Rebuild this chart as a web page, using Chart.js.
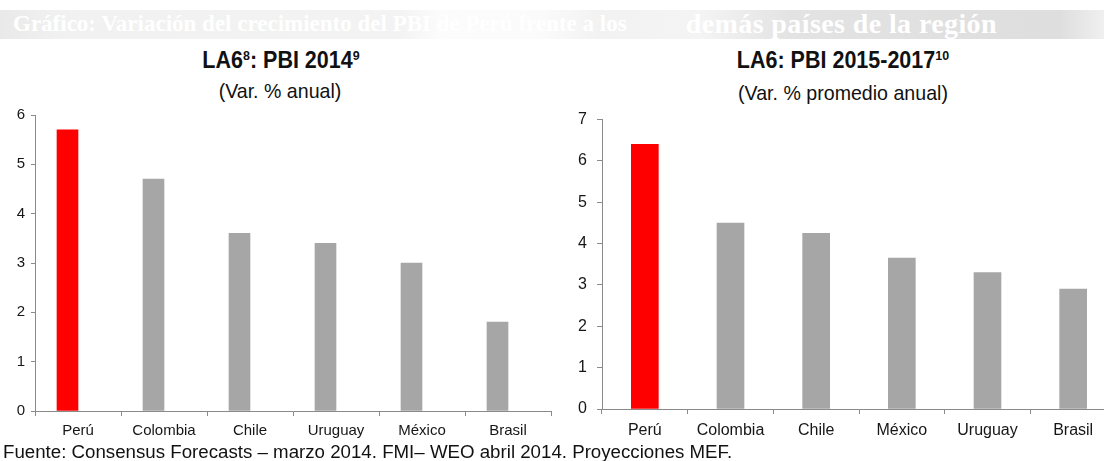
<!DOCTYPE html>
<html lang="es">
<head>
<meta charset="utf-8">
<title>PBI: Perú frente a la región</title>
<script src="https://cdn.jsdelivr.net/npm/chart.js@4/dist/chart.umd.min.js"></script>
<style>
  html, body { margin: 0; padding: 0; width: 1104px; height: 461px; overflow: hidden; background: #fff; }
  body { position: relative; font-family: 'Liberation Sans', Arial, sans-serif; color: #111; }
  .band {
    position: absolute; left: 0; top: 10px; width: 1104px; height: 29px;
    background: linear-gradient(to right, #e9e9e9 0px, #f1f1f1 60px, #f3f3f3 400px, #fcfcfc 440px,
      #fbfbfb 540px, #f2f2f2 600px, #f4f4f4 700px, #e3e3e3 790px, #dedede 1060px, #f0f0f0 1104px);
  }
  .banner {
    position: absolute; top: 8px; white-space: nowrap;
    font-family: 'Liberation Serif', 'Times New Roman', serif; font-weight: bold;
    line-height: 32px; color: #fff;
  }
  .banner.a { left: 13px; font-size: 23px; }
  .banner.b { right: 107px; font-size: 28px; letter-spacing: 0.4px; }
  .ttl { position: absolute; text-align: center; white-space: nowrap; line-height: 1; }
  .ttl.main { font-weight: bold; font-size: 21.5px; transform: scaleY(1.08); transform-origin: 50% 85%; }
  .ttl.sub { font-size: 19.6px; transform: scaleY(1.07); transform-origin: 50% 85%; }
  .ttl sup { font-size: 0.58em; vertical-align: 0.62em; line-height: 0; }
  canvas { position: absolute; }
  .note { position: absolute; left: 3px; top: 443px; font-size: 18.7px; line-height: 1; white-space: nowrap; color: #111; }
</style>
</head>
<body>
<div class="band"></div>
<div class="banner a">Gráfico: Variación del crecimiento del PBI de Perú frente a los</div>
<div class="banner b">demás países de la región</div>

<div class="ttl main" style="left:181px; width:200px; top:50.5px;">LA6<sup>8</sup>: PBI 2014<sup>9</sup></div>
<div class="ttl sub" style="left:180px; width:200px; top:81.5px;">(Var. % anual)</div>
<div class="ttl main" style="left:713px; width:260px; top:51px;">LA6: PBI 2015-2017<sup>10</sup></div>
<div class="ttl sub" style="left:713px; width:260px; top:83.5px;">(Var. % promedio anual)</div>

<canvas id="c2014" width="556" height="345" style="left:0px; top:100px; width:556px; height:345px;"></canvas>
<canvas id="c2017" width="560" height="345" style="left:560px; top:100px; width:560px; height:345px;"></canvas>

<div class="note">Fuente: Consensus Forecasts – marzo 2014. FMI– WEO abril 2014. Proyecciones MEF.</div>

<script>
// Crecimiento del PBI 2014 (Var. % anual)
const paises2014 = ['Perú', 'Colombia', 'Chile', 'Uruguay', 'México', 'Brasil'];
const pbi2014 = [5.7, 4.7, 3.6, 3.4, 3.0, 1.8];
const ejeY2014 = [0, 1, 2, 3, 4, 5, 6];

// Crecimiento del PBI 2015-2017 (Var. % promedio anual)
const paises2017 = ['Perú', 'Colombia', 'Chile', 'México', 'Uruguay', 'Brasil'];
const pbi2017 = [6.4, 4.5, 4.25, 3.65, 3.3, 2.9];
const ejeY2017 = [0, 1, 2, 3, 4, 5, 6, 7];

const ROJO = '#ff0000';
const GRIS = '#a6a6a6';
const EJE = '#8a8a8a';
const TEXTO = '#161616';

Chart.defaults.font.family = "'Liberation Sans', Arial, Helvetica, sans-serif";
Chart.defaults.color = TEXTO;
Chart.defaults.animation = false;

const colores = paises => paises.map(p => (p === 'Perú' ? ROJO : GRIS));

function opciones(ticksY, fs, yWidth, xHeight, pad, tickY, padY, padX) {
  return {
    responsive: false,
    maintainAspectRatio: false,
    events: [],
    layout: { padding: pad },
    plugins: { legend: { display: false }, tooltip: { enabled: false }, title: { display: false } },
    scales: {
      x: {
        offset: true,
        grid: { offset: true, drawOnChartArea: false, drawTicks: true, tickLength: 5, color: EJE, lineWidth: 1 },
        border: { display: true, color: EJE, width: 1 },
        ticks: { font: { size: fs }, padding: padX, maxRotation: 0, autoSkip: false },
        afterFit: s => { s.height = xHeight; }
      },
      y: {
        min: ticksY[0],
        max: ticksY[ticksY.length - 1],
        afterBuildTicks: s => { s.ticks = ticksY.map(v => ({ value: v })); },
        grid: { drawOnChartArea: false, drawTicks: true, tickLength: tickY, color: EJE, lineWidth: 1 },
        border: { display: true, color: EJE, width: 1 },
        ticks: { font: { size: fs }, padding: padY },
        afterFit: s => { s.width = yWidth; }
      }
    }
  };
}

// 2014: la segunda serie está vacía, por eso las barras quedan a la izquierda de cada categoría
new Chart(document.getElementById('c2014'), {
  type: 'bar',
  data: {
    labels: paises2014,
    datasets: [
      { label: 'PBI 2014', data: pbi2014, backgroundColor: colores(paises2014), barThickness: 21 },
      { label: '', data: paises2014.map(() => null), backgroundColor: GRIS, barThickness: 21 }
    ]
  },
  options: opciones(ejeY2014, 15, 35, 34, { top: 11, right: 5, left: 0, bottom: 0 }, 4, 6, 6)
});

new Chart(document.getElementById('c2017'), {
  type: 'bar',
  data: {
    labels: paises2017,
    datasets: [
      { label: 'PBI 2015-2017', data: pbi2017, backgroundColor: colores(paises2017), barThickness: 27 }
    ]
  },
  options: opciones(ejeY2017, 16, 42, 36, { top: 13.3, right: 4, left: 0, bottom: 0 }, 5, 10, 7)
});
</script>
</body>
</html>
